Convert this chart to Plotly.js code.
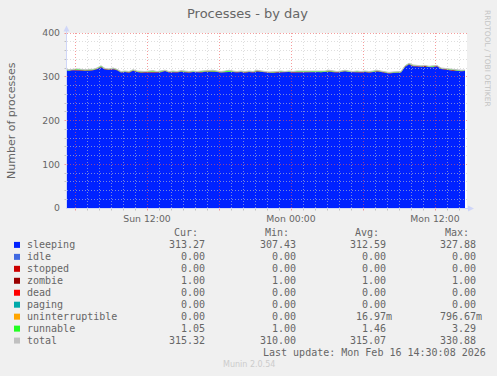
<!DOCTYPE html>
<html>
<head>
<meta charset="utf-8">
<script src="https://cdn.plot.ly/plotly-3.0.1.min.js"></script>
<style>
html,body{margin:0;padding:0;background:#f0f0f0;}
#chart{width:497px;height:376px;}
</style>
</head>
<body>
<div id="chart"></div>
<script>
// ---------------- DATA ----------------
const startTime = '2026-02-15 05:10';   // first sample
const stepMinutes = 20;                 // sample spacing

const sleeping = [
314.8,313.5,315.0,315.2,314.7,313.9,313.9,314.6,317.4,321.6,
316.7,316.0,317.3,314.8,309.5,310.9,309.1,313.7,311.0,309.4,
309.8,310.6,310.0,309.9,310.5,313.0,309.7,310.2,309.8,311.6,
311.0,309.4,310.7,309.9,310.0,311.6,311.8,312.3,311.0,309.5,
310.7,310.71,310.8,309.6,310.9,309.4,311.0,309.7,312.1,310.8,
309.6,309.0,308.5,309.8,310.3,309.9,310.7,310.0,309.9,310.6,
309.8,310.2,310.0,310.7,309.5,310.9,311.7,310.8,309.6,311.0,
312.3,310.7,309.9,310.5,309.8,311.0,309.4,310.6,312.0,310.9,
308.7,307.43,308.8,309.0,309.5,322.2,327.88,324.2,323.4,322.8,
323.5,321.7,321.8,323.9,317.6,316.3,314.8,313.5,313.7,312.4,
313.27];

const zombie = [
1,1,1,1,1,1,1,1,1,1, 1,1,1,1,1,1,1,1,1,1,
1,1,1,1,1,1,1,1,1,1, 1,1,1,1,1,1,1,1,1,1,
1,1,1,1,1,1,1,1,1,1, 1,1,1,1,1,1,1,1,1,1,
1,1,1,1,1,1,1,1,1,1, 1,1,1,1,1,1,1,1,1,1,
1,1,1,1,1,1,1,1,1,1, 1,1,1,1,1,1,1,1,1,1,
1];

const uninterruptible = [
0,0,0,0,0,0,0,0,0,0, 0,0,0,0,0,0,0,0,0,0,
0,0,0.8,0,0,0,0,0,0,0, 0,0,0,0,0,0,0,0,0,0,
0,0,0,0,0,0,0,0,0,0, 0,0,0,0,0,0,0,0,0.5,0,
0,0,0,0,0,0,0,0,0,0, 0,0,0,0,0,0,0,0,0,0,
0,0,0,0,0,0,0,0.4,0,0, 0,0,0,0,0,0,0,0,0,0,
0];

const runnable = [
1.2,1.5,1.0,1.8,1.3,1.1,2.1,1.4,1.6,2.4,
1.3,1.0,1.7,1.2,1.5,1.1,1.9,1.3,1.0,1.6,
1.2,1.4,2.2,1.1,1.5,1.0,1.3,1.8,1.2,1.4,
1.0,1.6,1.3,1.1,2.0,1.4,1.2,1.7,1.0,1.5,
1.3,3.29,1.2,1.4,1.1,1.6,1.0,1.3,1.9,1.2,
1.4,1.0,1.5,1.2,1.7,1.1,1.3,1.0,1.6,1.4,
1.2,1.8,1.0,1.3,1.5,1.1,2.3,1.2,1.4,1.0,
1.7,1.3,1.1,1.5,1.2,1.0,1.6,1.4,2.0,1.1,
1.3,1.57,1.2,1.0,1.5,1.8,2.0,1.4,1.6,1.2,
1.5,1.3,2.2,1.1,1.4,1.7,1.2,1.5,1.3,1.6,
1.05];

const total = [
317,316,317,318,317,316,317,317,320,325,
319,318,320,317,312,313,312,316,313,312,
312,313,314,312,313,315,312,313,312,314,
313,312,313,312,313,314,314,315,313,312,
313,315,313,312,313,312,313,312,315,313,
312,311,311,312,313,312,313,312,313,313,
312,313,312,313,312,313,315,313,312,313,
315,313,312,313,312,313,312,313,315,313,
311,310,311,311,312,325,330.88,327,326,325,
326,324,325,326,320,319,317,316,316,315,
315.32];

const xTickVals = ['2026-02-15 12:00','2026-02-16 00:00','2026-02-16 12:00'];
const xTickText = ['Sun 12:00','Mon 00:00','Mon 12:00'];
const yTickVals = [0,100,200,300,400];
const xRange = ['2026-02-15 05:20','2026-02-16 14:40'];
const yRange = [0,400];

const legendNames = ['sleeping','idle','stopped','zombie','dead','paging','uninterruptible','runnable','total'];
const curVals = ['313.27','0.00','0.00','1.00','0.00','0.00','0.00','1.05','315.32'];
const minVals = ['307.43','0.00','0.00','1.00','0.00','0.00','0.00','1.00','310.00'];
const avgVals = ['312.59','0.00','0.00','1.00','0.00','0.00','16.97m','1.46','315.07'];
const maxVals = ['327.88','0.00','0.00','1.00','0.00','0.00','796.67m','3.29','330.88'];
const colHeaders = ['Cur:','Min:','Avg:','Max:'];
const lastUpdate = 'Last update: Mon Feb 16 14:30:08 2026';

// ---------------- STYLE ----------------
const seriesColors = {
  sleeping:'#0022ff', idle:'#4169e1', stopped:'#cc0000', zombie:'#990000',
  dead:'#ff0000', paging:'#00aaaa', uninterruptible:'#ffa500', runnable:'#22ff22', total:'#c0c0c0'
};
const FONT = '#666666';
const AXISC = '#cfd6f8';
const MONO = 'DejaVu Sans Mono, monospace';
const SANS = 'DejaVu Sans, sans-serif';
const W = 497, H = 376, L = 67, T = 33, PW = 400, PH = 175;

// time helpers
function pad(n){return (n<10?'0':'')+n;}
function fmt(ms){const d=new Date(ms);return d.getUTCFullYear()+'-'+pad(d.getUTCMonth()+1)+'-'+pad(d.getUTCDate())+' '+pad(d.getUTCHours())+':'+pad(d.getUTCMinutes());}
function parse(s){const [a,b]=s.split(' ');const [y,m,d]=a.split('-').map(Number);const [h,mi]=b.split(':').map(Number);return Date.UTC(y,m-1,d,h,mi);}
const t0 = parse(startTime);
const times = sleeping.map((_,i)=>fmt(t0 + i*stepMinutes*60000));

// pixel <-> paper helpers (for decorations only)
function px2x(px){return (px-L)/PW;}
function py2y(py){return (T+PH-py)/PH;}
const xr0 = parse(xRange[0]), xr1 = parse(xRange[1]);
function timePx(ms){return L + (ms-xr0)/(xr1-xr0)*PW;}
function valPy(v){return T+PH - (v-yRange[0])/(yRange[1]-yRange[0])*PH;}

// ---------------- TRACES ----------------
function stackTrace(name, vals){
  return {x:times, y:vals, type:'scatter', mode:'lines', stackgroup:'one',
    line:{width:0, color:seriesColors[name]}, fillcolor:seriesColors[name], name:name, hoverinfo:'skip'};
}
const traces = [
  stackTrace('sleeping', sleeping),
  stackTrace('zombie', zombie),
  stackTrace('uninterruptible', uninterruptible),
  stackTrace('runnable', runnable),
  {x:times, y:total, type:'scatter', mode:'lines', line:{width:1, color:seriesColors.total}, name:'total', hoverinfo:'skip'}
];

// ---------------- GRID (drawn above data like rrdtool, snapped to pixel centres) ----------------
const shapes = [];
const minorC = 'rgba(200,200,200,0.6)';
const majorC = 'rgba(240,90,90,0.6)';
const tickC = 'rgba(160,160,160,0.6)';
for (let v = yRange[0]+20; v <= yRange[1]; v += 20){
  const major = (v % 100 === 0);
  const py = Math.floor(valPy(v)) + 0.5;
  shapes.push({type:'line', layer:'above', xref:'paper', yref:'paper', x0:0, x1:1, y0:py2y(py), y1:py2y(py),
    line:{color: major?majorC:minorC, width:1, dash:'1px,2px'}});
  shapes.push({type:'line', layer:'above', xref:'paper', yref:'paper', x0:px2x(64.5), x1:px2x(67), y0:py2y(py), y1:py2y(py),
    line:{color: major?majorC:tickC, width:1}});
}
for (let ms = Math.ceil(xr0/3600000)*3600000; ms < xr1; ms += 3600000){
  const h = new Date(ms).getUTCHours();
  const major = (h % 6 === 0);
  const px = Math.floor(timePx(ms)) + 0.5;
  shapes.push({type:'line', layer:'above', xref:'paper', yref:'paper', x0:px2x(px), x1:px2x(px), y0:0, y1:1,
    line:{color: major?majorC:minorC, width:1, dash:'1px,2px'}});
  shapes.push({type:'line', layer:'above', xref:'paper', yref:'paper', x0:px2x(px), x1:px2x(px), y0:py2y(208), y1:py2y(210.5),
    line:{color: major?majorC:tickC, width:1}});
}
// axis lines and arrows
shapes.push({type:'line', layer:'above', xref:'paper', yref:'paper', x0:px2x(66.5), x1:px2x(66.5), y0:py2y(208.5), y1:py2y(29), line:{color:AXISC, width:1}});
shapes.push({type:'line', layer:'above', xref:'paper', yref:'paper', x0:px2x(66), x1:px2x(470), y0:py2y(208.5), y1:py2y(208.5), line:{color:AXISC, width:1}});
shapes.push({type:'path', layer:'above', xref:'paper', yref:'paper',
  path:'M '+px2x(63.5)+' '+py2y(31.5)+' L '+px2x(69.5)+' '+py2y(31.5)+' L '+px2x(66.5)+' '+py2y(25.5)+' Z',
  fillcolor:AXISC, line:{width:0}});
shapes.push({type:'path', layer:'above', xref:'paper', yref:'paper',
  path:'M '+px2x(468)+' '+py2y(205.5)+' L '+px2x(468)+' '+py2y(211.5)+' L '+px2x(474)+' '+py2y(208.5)+' Z',
  fillcolor:AXISC, line:{width:0}});

// ---------------- LEGEND TABLE ----------------
const ann = [];
function txt(text, px, py, anchor, size, color, font, extra){
  const a = {text:text, x:px2x(px), y:py2y(py), xref:'paper', yref:'paper', xanchor:anchor, yanchor:'middle',
    showarrow:false, borderpad:0, font:{family:font||MONO, size:size||10, color:color||FONT}};
  return Object.assign(a, extra||{});
}
const colEdges = [205.5, 296.5, 386.5, 476.5];
const headerY = 232.3, row0 = 244.9, rowH = 11.96;
colHeaders.forEach((h,i)=>ann.push(txt(h, colEdges[i]-6.3, headerY, 'right')));
const cols = [curVals, minVals, avgVals, maxVals];
legendNames.forEach((n,r)=>{
  const y = row0 + r*rowH;
  ann.push(txt(n, 26, y, 'left'));
  cols.forEach((c,i)=>{
    const s = c[r];
    const edge = colEdges[i] + (s.endsWith('m') ? 6 : 0);
    ann.push(txt(s, edge, y, 'right'));
  });
  shapes.push({type:'rect', layer:'above', xref:'paper', yref:'paper',
    x0:px2x(14), x1:px2x(20), y0:py2y(y-3), y1:py2y(y+3), fillcolor:seriesColors[n], line:{width:0}});
});
ann.push(txt(lastUpdate, 262, 352.3, 'left'));
ann.push(txt('Munin 2.0.54', 248.5, 364.5, 'center', 8, '#cccccc', SANS));
ann.push(txt('RRDTOOL / TOBI OETIKER', 488, 58, 'center', 7.5, '#c4c4c4', SANS, {textangle:90}));
ann.push(txt('Number of processes', 11, 120, 'center', 11, FONT, SANS, {textangle:-90}));
ann.push(txt('Processes - by day', 247, 13.5, 'center', 13, FONT, SANS));

// ---------------- LAYOUT ----------------
const layout = {
  width:W, height:H,
  paper_bgcolor:'#f0f0f0', plot_bgcolor:'#ffffff',
  margin:{l:L, r:W-L-PW, t:T, b:H-T-PH, pad:0},
  showlegend:false, hovermode:false,
  xaxis:{type:'date', range:xRange, tickvals:xTickVals, ticktext:xTickText,
    showgrid:false, zeroline:false, showline:false, ticks:'', ticklabelstandoff:4,
    tickfont:{family:SANS, size:9.3, color:FONT}, fixedrange:true},
  yaxis:{range:yRange, tickvals:yTickVals, showgrid:false, zeroline:false, showline:false,
    ticks:'', ticklabelstandoff:6, tickfont:{family:SANS, size:9.3, color:FONT}, fixedrange:true},
  shapes:shapes, annotations:ann
};
Plotly.newPlot('chart', traces, layout, {staticPlot:true, displayModeBar:false});
</script>
</body>
</html>
